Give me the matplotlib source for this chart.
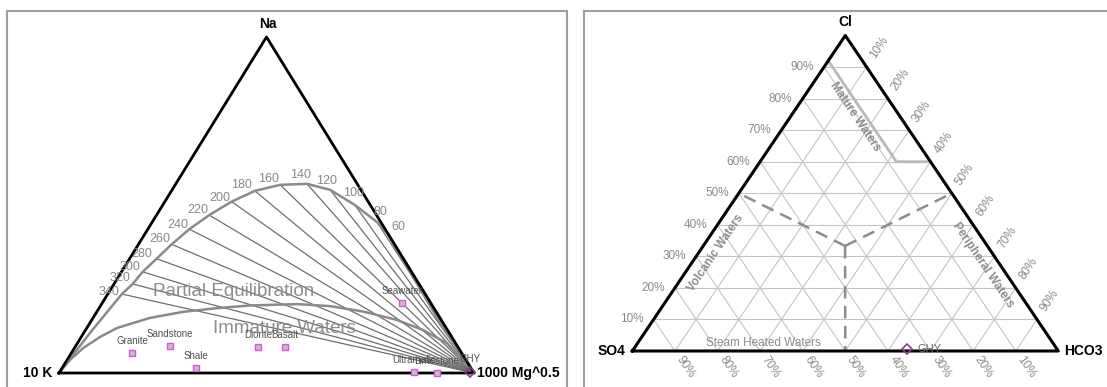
import numpy as np
import matplotlib.pyplot as plt
from matplotlib.patches import Rectangle

plt.rcParams['font.family'] = ['Liberation Sans', 'DejaVu Sans']

# ---------------- Na-K-Mg diagram (left) ----------------
# full equilibration curve as (Na %, Mg %); K is the rest
full_na = [0, 11.9, 23.5, 26.5, 30.1, 34.0, 38.3, 42.8, 47.0, 51.0, 54.2, 56.0,
           56.3, 54.5, 50.0, 44.9, 41.7, 32.7, 16.4, 0]
full_mg = [0, 1.5, 3.4, 4.5, 5.1, 6.5, 8.0, 10.0, 12.7, 16.1, 20.1, 25.3,
           31.6, 38.1, 46.3, 54.2, 58.2, 67.0, 82.9, 100]

# partial equilibration / immature waters boundary
part_na = [0, 3.9, 7.4, 10.7, 13.4, 16.4, 18.2, 19.3, 20.1, 20.5, 19.9, 18.3,
           15.8, 12.8, 8.9, 0]
part_mg = [0, 0.7, 2.1, 4.5, 7.3, 13.7, 20.8, 28.4, 36.0, 47.1, 55.4, 64.1,
           73.5, 81.3, 89.0, 100]

# temperature isotherm points on the full equilibration curve
temps = [340, 320, 300, 280, 260, 240, 220, 200, 180, 160, 140, 120, 100, 80, 60]
iso_na = [23.5, 26.5, 30.1, 34.0, 38.3, 42.8, 47.0, 51.0, 54.2, 56.0, 56.3, 54.5,
          50.0, 44.9, 41.7]
iso_mg = [3.4, 4.5, 5.1, 6.5, 8.0, 10.0, 12.7, 16.1, 20.1, 25.3, 31.6, 38.1,
          46.3, 54.2, 58.2]

# rock / water reference points
rocks = ['Granite', 'Sandstone', 'Shale', 'Diorite', 'Basalt', 'Ultramafic',
         'Limestone', 'Seawater']
rock_na = [5.9, 8.1, 1.6, 7.6, 7.8, 0.3, 0.0, 20.7]
rock_mg = [14.7, 22.7, 32.2, 44.1, 50.6, 85.4, 91.1, 72.4]

ghy_na, ghy_mg = 0.3, 98.9

# ---------------- Cl-SO4-HCO3 diagram (right) ----------------
pct_ticks = [10, 20, 30, 40, 50, 60, 70, 80, 90]
# mature waters boundary (Cl %, HCO3 %)
mature_cl = [92, 60, 60]
mature_hco3 = [0, 32, 40]
# dashed field boundaries from the centre point (Cl %, HCO3 %)
centre_cl, centre_hco3 = 33.3, 33.3
bound_cl = [50, 50, 0]
bound_hco3 = [0, 50, 50]

ghy_cl, ghy_hco3 = 0.6, 64.3

# ---------------- layout ----------------
W, H = 1107, 387
fig = plt.figure(figsize=(W / 100, H / 100), dpi=100)


def px_axes(x0, y_base, w, h):
    ax = fig.add_axes([x0 / W, (H - y_base) / H, w / W, h / H])
    ax.set_xlim(0, 1)
    ax.set_ylim(0, 1)
    ax.axis('off')
    return ax


def tern(top, right):
    top = np.asarray(top, float) / 100
    right = np.asarray(right, float) / 100
    return right + top / 2, top


axL = px_axes(59, 373, 415, 336)
axR = px_axes(632.3, 351, 426, 315.5)

# panel frames
fig.add_artist(Rectangle((7 / W, -0.1), (567 - 7) / W, (H - 10.5) / H + 0.1,
                         transform=fig.transFigure, fill=False, ec='#a0a0a0', lw=1.5))
fig.add_artist(Rectangle((584 / W, -0.1), 0.6, (H - 10.5) / H + 0.1,
                         transform=fig.transFigure, fill=False, ec='#a0a0a0', lw=1.5))

# ---- left panel ----
ax = axL
vx, vy = tern(iso_na, iso_mg)
for x, y in zip(vx, vy):
    ax.plot([x, 1], [y, 0], color='#6e6e6e', lw=0.9, clip_on=False)

fx, fy = tern(full_na, full_mg)
ax.plot(fx, fy, color='#8a8a8a', lw=1.8, clip_on=False)
px_, py_ = tern(part_na, part_mg)
ax.plot(px_, py_, color='#8a8a8a', lw=1.8, clip_on=False)

ax.plot([0, 1, 0.5, 0], [0, 0, 1, 0], color='black', lw=2, clip_on=False)

temp_dx = [-12.4, -12.7, -12.7, -15, -11.7, -11.6, -11, -11.7, -13, -11.7, -6.3, -3.3, -1, 3, 11]
temp_dy = [2.3, 5.7, 4.7, 4.7, 5, 4.3, 5, 4, 6, 5.7, 9, 9.3, 12.3, 10, 6]
for t, x, y, dx, dy in zip(temps, vx, vy, temp_dx, temp_dy):
    ax.annotate(str(t), (x, y), xytext=(dx, dy), textcoords='offset pixels',
                ha='center', va='center', fontsize=9, color='#888888')

ax.text(0.4217, 0.244, 'Partial Equilibration', ha='center', va='center',
        fontsize=13.5, color='#8c8c8c')
ax.text(0.543, 0.131, 'Immature Waters', ha='center', va='center',
        fontsize=13.5, color='#8c8c8c')

rx, ry = tern(rock_na, rock_mg)
ax.plot(rx, ry, 's', ms=5, mfc='#c0c0c0', mec='#e050e0', mew=1, ls='none', clip_on=False)
for name, x, y in zip(rocks, rx, ry):
    ax.annotate(name, (x, y), xytext=(0, 12), textcoords='offset pixels',
                ha='center', va='center', fontsize=7, color='#505050')

gx, gy = tern(ghy_na, ghy_mg)
ax.plot([gx], [gy], 'D', ms=5, mfc='none', mec='#8b3a8b', mew=1.2, clip_on=False)
ax.annotate('GHY', (gx, gy), xytext=(0, 12.5), textcoords='offset pixels',
            ha='center', va='center', fontsize=7, color='#505050')

ax.annotate('Na', (0.5, 1), xytext=(1, 13), textcoords='offset pixels',
            ha='center', va='center', fontsize=10, fontweight='bold')
ax.annotate('10 K', (0, 0), xytext=(-7, 0), textcoords='offset pixels',
            ha='right', va='center', fontsize=10, fontweight='bold')
ax.annotate('1000 Mg^0.5', (1, 0), xytext=(3, 0), textcoords='offset pixels',
            ha='left', va='center', fontsize=10, fontweight='bold')

# ---- right panel ----
ax = axR
ang = np.degrees(np.arctan2(315.5, 213))
grid_kw = dict(color='#c4c4c4', lw=0.8, clip_on=False)
for v in pct_ticks:
    f = v / 100
    ax.plot([f / 2, 1 - f / 2], [f, f], **grid_kw)
    ax.plot([f, f + (1 - f) / 2], [0, 1 - f], **grid_kw)
    ax.plot([1 - f, (1 - f) / 2], [0, 1 - f], **grid_kw)

mx, my = tern(mature_cl, mature_hco3)
ax.plot(mx, my, color='#b8b8b8', lw=2, clip_on=False)

cx, cy = tern(centre_cl, centre_hco3)
bx, by = tern(bound_cl, bound_hco3)
for x, y in zip(bx, by):
    ax.plot([cx, x], [cy, y], color='#8c8c8c', lw=1.8, ls=(0, (5, 3)), clip_on=False)

ax.plot([0, 1, 0.5, 0], [0, 0, 1, 0], color='black', lw=2.2, clip_on=False)

ca, sa = np.cos(np.radians(ang)), np.sin(np.radians(ang))
lab_kw = dict(textcoords='offset pixels', ha='center', va='center',
              fontsize=8.5, color='#8a8a8a')
for v in pct_ticks:
    f = v / 100
    ax.annotate(f'{v}%', (f / 2, f), xytext=(-22, 0), **lab_kw)
    ax.annotate(f'{v}%', (f + (1 - f) / 2, 1 - f), xytext=(23 * ca, 23 * sa),
                rotation=ang, rotation_mode='anchor', **lab_kw)
    ax.annotate(f'{v}%', (1 - f, 0), xytext=(19 * ca, -19 * sa),
                rotation=-ang, rotation_mode='anchor', **lab_kw)

zone_kw = dict(ha='center', va='center', fontsize=8.5, color='#8c8c8c',
               fontweight='bold', rotation_mode='anchor')
ax.text(0.5228, 0.7426, 'Mature Waters', rotation=-ang, **zone_kw)
ax.text(0.1965, 0.3122, 'Volcanic Waters', rotation=ang, **zone_kw)
ax.text(0.823, 0.2726, 'Peripheral Waters', rotation=-ang, **zone_kw)
ax.text(0.309, 0.0254, 'Steam Heated Waters', ha='center', va='center',
        fontsize=8.5, color='#8c8c8c')

hx, hy = tern(ghy_cl, ghy_hco3)
ax.plot([hx], [hy], 'D', ms=5.5, mfc='none', mec='#8b3a8b', mew=1.2, clip_on=False)
ax.annotate('GHY', (hx, hy), xytext=(10, 0), textcoords='offset pixels',
            ha='left', va='center', fontsize=8, color='#666666')

ax.annotate('Cl', (0.5, 1), xytext=(0, 13), textcoords='offset pixels',
            ha='center', va='center', fontsize=10, fontweight='bold')
ax.annotate('SO4', (0, 0), xytext=(-7, 0), textcoords='offset pixels',
            ha='right', va='center', fontsize=10, fontweight='bold')
ax.annotate('HCO3', (1, 0), xytext=(6, 0), textcoords='offset pixels',
            ha='left', va='center', fontsize=10, fontweight='bold')

fig.savefig('out.png', dpi=100)
